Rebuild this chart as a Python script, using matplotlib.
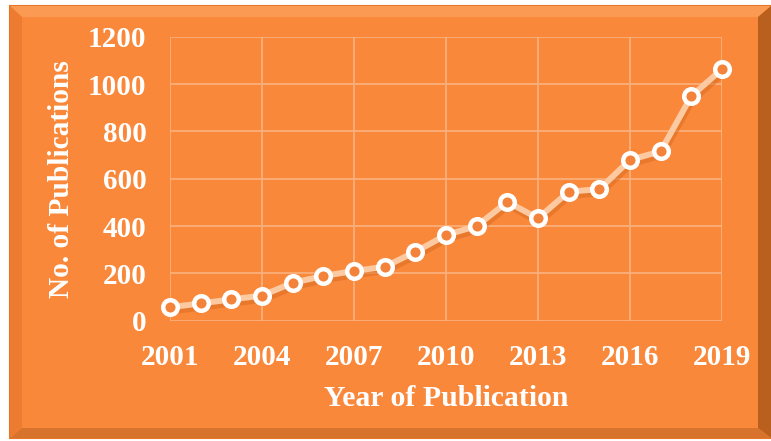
import matplotlib.pyplot as plt
import matplotlib.patheffects as pe
from matplotlib.patches import Polygon, Rectangle

years = list(range(2001, 2020))
pubs = [57, 73, 90, 106, 160, 189, 210, 228, 291, 362, 400, 502, 433, 545, 556, 679, 716, 949, 1063]
xticks = [2001, 2004, 2007, 2010, 2013, 2016, 2019]
yticks = [0, 200, 400, 600, 800, 1000, 1200]

bg = '#F9883B'
W, H = 771, 441

fig = plt.figure(figsize=(W / 100, H / 100), dpi=100)
fig.patch.set_facecolor('white')

# frame with bevel, drawn in pixel coords (top-left origin)
def px(pts):
    return [(x / W, 1 - y / H) for x, y in pts]

o = (10, 6, 771, 438)   # outer box
i = (22, 17, 758, 428)  # inner box
fig.patches.append(Rectangle((o[0] / W, 1 - o[3] / H), (o[2] - o[0]) / W, (o[3] - o[1]) / H,
                             transform=fig.transFigure, facecolor=bg, edgecolor='#E57628',
                             lw=1.5, zorder=-10))
bevels = [
    ([(o[0], o[1]), (o[2], o[1]), (i[2], i[1]), (i[0], i[1])], '#FB9A52'),   # top
    ([(o[0], o[1]), (i[0], i[1]), (i[0], i[3]), (o[0], o[3])], '#EE7C30'),   # left
    ([(o[2], o[1]), (o[2], o[3]), (i[2], i[3]), (i[2], i[1])], '#B9601F'),   # right
    ([(o[0], o[3]), (i[0], i[3]), (i[2], i[3]), (o[2], o[3])], '#D8732D'),   # bottom
]
for pts, c in bevels:
    fig.patches.append(Polygon(px(pts), closed=True, transform=fig.transFigure,
                               facecolor=c, edgecolor='none', zorder=-9))

ax = fig.add_axes([170 / W, 120.3 / H, 552 / W, 284 / H])
ax.set_facecolor(bg)
for s in ax.spines.values():
    s.set_visible(False)

font = dict(family='Liberation Serif', weight='bold', color='white')

ax.plot(years, pubs, color='#FCC9A0', lw=4.3, zorder=3, solid_capstyle='round',
        path_effects=[pe.SimpleLineShadow(offset=(1, -3), shadow_color='#D9691F', alpha=0.5), pe.Normal()])
ax.plot(years, pubs, ls='none', marker='o', ms=10.5, mew=3.2, mec='white', mfc='#F3823A',
        zorder=4, clip_on=False)

ax.set_xlim(2001, 2019)
ax.set_ylim(0, 1200)
ax.set_xticks(xticks)
ax.set_yticks(yticks)
ax.grid(True, color='#FBB27F', lw=1.2)
ax.set_axisbelow(True)
ax.tick_params(length=0, labelsize=21, labelcolor='white')
ax.tick_params(axis='y', pad=17)
ax.tick_params(axis='x', pad=17)
for lab in ax.get_xticklabels() + ax.get_yticklabels():
    lab.set_family('Liberation Serif')
    lab.set_weight('bold')

ax.set_ylabel('No. of Publications', fontsize=21.2, labelpad=9, **font)
ax.set_xlabel('Year of Publication', fontsize=21.4, labelpad=10, **font)

plt.savefig('out.png', dpi=100, facecolor=fig.get_facecolor())
